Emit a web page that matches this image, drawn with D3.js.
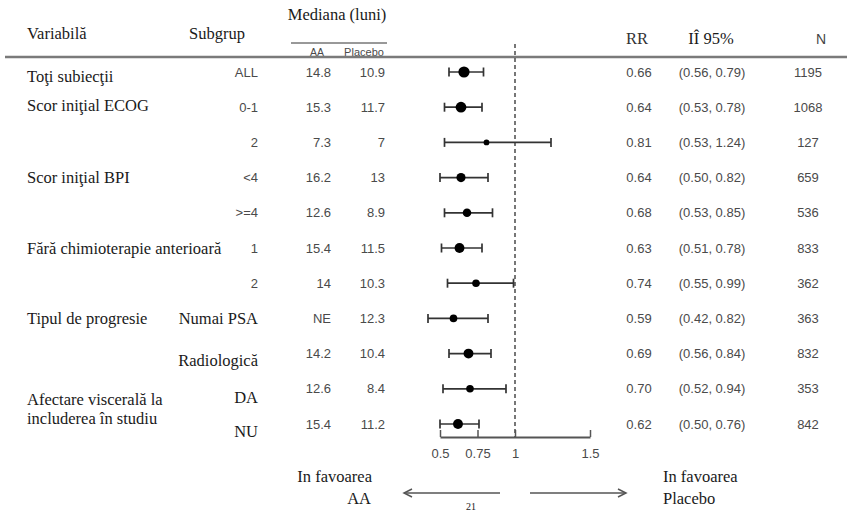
<!DOCTYPE html>
<html><head><meta charset="utf-8">
<script src="https://cdn.jsdelivr.net/npm/d3@7/dist/d3.min.js"></script>
<style>html,body{margin:0;padding:0;background:#fff}svg{display:block}</style>
</head><body>
<svg id="chart" width="853" height="511"></svg>
<script>
// ---- data ----
const variables = ["Toţi subiecţii","Scor iniţial ECOG","","Scor iniţial BPI","","Fără chimioterapie anterioară","","Tipul de progresie","","Afectare viscerală la|includerea în studiu",""];
const subgroups = ["ALL","0-1","2","<4",">=4","1","2","Numai PSA","Radiologică","DA","NU"];
const medianAA = ["14.8","15.3","7.3","16.2","12.6","15.4","14","NE","14.2","12.6","15.4"];
const medianPlacebo = ["10.9","11.7","7","13","8.9","11.5","10.3","12.3","10.4","8.4","11.2"];
const rr = [0.66,0.64,0.81,0.64,0.68,0.63,0.74,0.59,0.69,0.70,0.62];
const ciLow = [0.56,0.53,0.53,0.50,0.53,0.51,0.55,0.42,0.56,0.52,0.50];
const ciHigh = [0.79,0.78,1.24,0.82,0.85,0.78,0.99,0.82,0.84,0.94,0.76];
const nSubj = [1195,1068,127,659,536,833,362,363,832,353,842];
const xTicks = [0.5,0.75,1,1.5];
const headers = {variable:"Variabilă", subgroup:"Subgrup", median:"Mediana (luni)", aa:"AA", placebo:"Placebo", rr:"RR", ci:"IÎ 95%", n:"N"};
const favourLeft = ["In favoarea","AA"];
const favourRight = ["In favoarea","Placebo"];
const pageNumber = "21";

// ---- setup ----
const svg = d3.select("#chart");
const SERIF = "'Liberation Serif','Times New Roman',serif";
const SANS = "'Liberation Sans',Arial,sans-serif";
const serifCol = "#1a1a1a", sansCol = "#4a4a4a";
const SERIF_SIZE = 16.5, SANS_SIZE = 13;

const x = d3.scaleLinear().domain([0.5,1.5]).range([440,590]);
const y = d3.scaleLinear().domain([0, rr.length-1]).range([72, 424]);
const r = d3.scaleSqrt().domain([127,1195]).range([2.9,5.6]);
const idx = d3.range(rr.length);

function txt(g, s, xx, yy, o) {
  o = o || {};
  const t = g.append("text").attr("x", xx).attr("y", yy).text(s)
    .attr("font-family", o.family || SERIF)
    .attr("font-size", o.size || SERIF_SIZE)
    .attr("fill", o.fill || serifCol)
    .attr("text-anchor", o.anchor || "start");
  if (o.dy) t.attr("dy", o.dy);
  return t;
}

// ---- header ----
const h = svg.append("g");
txt(h, headers.variable, 27, 39);
txt(h, headers.subgroup, 189, 39);
txt(h, headers.median, 337, 20, {anchor:"middle"});
h.append("line").attr("x1",291).attr("x2",387).attr("y1",43).attr("y2",43).attr("stroke","#333").attr("stroke-width",1);
txt(h, headers.aa, 317, 56, {family:SANS, size:10.5, fill:sansCol, anchor:"middle"});
txt(h, headers.placebo, 364, 56, {family:SANS, size:11, fill:sansCol, anchor:"middle"});
txt(h, headers.rr, 637, 44, {anchor:"middle", fill:"#333"});
txt(h, headers.ci, 711, 44, {anchor:"middle"});
txt(h, headers.n, 821, 44, {anchor:"middle", family:SANS, size:14, fill:"#444"});
h.append("line").attr("x1",5).attr("x2",847).attr("y1",57).attr("y2",57).attr("stroke","#7a7a7a").attr("stroke-width",2.5);

// ---- reference line ----
svg.append("line").attr("x1", x(1)).attr("x2", x(1)).attr("y1", 44).attr("y2", 437)
  .attr("stroke","#555").attr("stroke-width",1.6).attr("stroke-dasharray","4,3");

// ---- axis ----
const axis = d3.axisBottom(x).tickValues(xTicks).tickFormat(d => String(d))
  .tickSizeInner(-7).tickSizeOuter(0).tickPadding(12);
const ag = svg.append("g").attr("transform","translate(0,437)").call(axis);
ag.select(".domain").attr("stroke","#555").attr("stroke-width",2);
ag.selectAll(".tick line").attr("stroke","#555").attr("stroke-width",1.5);
ag.selectAll(".tick text").attr("font-family",SANS).attr("font-size",SANS_SIZE).attr("fill",sansCol);

// ---- rows ----
const rows = svg.append("g");
const serifSub = new Set(["Numai PSA","Radiologică","DA","NU"]);
const labelOffset = [4,-2,0,0,0,0,0,0,0,0,0];
const subOffset = [0,0,0,0,0,0,0,0,7,8,7];
idx.forEach(i => {
  const yy = y(i);
  if (variables[i]) {
    const parts = variables[i].split("|");
    parts.forEach((p, k) => txt(rows, p, 27, yy + labelOffset[i] + (parts.length>1 ? 10 + k*19 : 0), {dy:"0.35em"}));
  }
  if (serifSub.has(subgroups[i])) {
    txt(rows, subgroups[i], 258, yy + subOffset[i], {anchor:"end", dy:"0.35em"});
  } else {
    txt(rows, subgroups[i], 258, yy, {anchor:"end", family:SANS, size:SANS_SIZE, fill:sansCol, dy:"0.35em"});
  }
  txt(rows, medianAA[i], 331, yy, {anchor:"end", family:SANS, size:SANS_SIZE, fill:sansCol, dy:"0.35em"});
  txt(rows, medianPlacebo[i], 385, yy, {anchor:"end", family:SANS, size:SANS_SIZE, fill:sansCol, dy:"0.35em"});
  txt(rows, d3.format(".2f")(rr[i]), 639, yy, {anchor:"middle", family:SANS, size:SANS_SIZE, fill:sansCol, dy:"0.35em"});
  txt(rows, "(" + d3.format(".2f")(ciLow[i]) + ", " + d3.format(".2f")(ciHigh[i]) + ")", 712, yy, {anchor:"middle", family:SANS, size:SANS_SIZE, fill:sansCol, dy:"0.35em"});
  txt(rows, String(nSubj[i]), 808, yy, {anchor:"middle", family:SANS, size:SANS_SIZE, fill:sansCol, dy:"0.35em"});
});

// ---- CI bars and points ----
const marks = svg.append("g");
marks.selectAll("line.ci").data(idx).join("line").attr("class","ci")
  .attr("x1", i => x(ciLow[i])).attr("x2", i => x(ciHigh[i]))
  .attr("y1", i => y(i)).attr("y2", i => y(i))
  .attr("stroke","#333").attr("stroke-width",1.7);
["lo","hi"].forEach(side => {
  marks.selectAll("line.cap"+side).data(idx).join("line").attr("class","cap"+side)
    .attr("x1", i => x(side==="lo"?ciLow[i]:ciHigh[i])).attr("x2", i => x(side==="lo"?ciLow[i]:ciHigh[i]))
    .attr("y1", i => y(i)-4.5).attr("y2", i => y(i)+4.5)
    .attr("stroke","#333").attr("stroke-width",1.7);
});
marks.selectAll("circle").data(idx).join("circle")
  .attr("cx", i => x(rr[i])).attr("cy", i => y(i)).attr("r", i => r(nSubj[i]))
  .attr("fill","#000");

// ---- favour arrows ----
const defs = svg.append("defs");
defs.append("marker").attr("id","ah").attr("viewBox","-10 -6 12 12").attr("refX",0).attr("refY",0)
  .attr("markerWidth",12).attr("markerHeight",12).attr("markerUnits","userSpaceOnUse").attr("orient","auto")
  .append("path").attr("d","M-8,-4 L0,0 L-8,4").attr("fill","none").attr("stroke","#555").attr("stroke-width",1.5);
const fav = svg.append("g");
fav.append("line").attr("x1",500).attr("x2",404).attr("y1",493).attr("y2",493)
  .attr("stroke","#555").attr("stroke-width",1.5).attr("marker-end","url(#ah)");
fav.append("line").attr("x1",530).attr("x2",626).attr("y1",493).attr("y2",493)
  .attr("stroke","#555").attr("stroke-width",1.5).attr("marker-end","url(#ah)");
txt(fav, favourLeft[0], 372, 482, {anchor:"end"});
txt(fav, favourLeft[1], 371, 504, {anchor:"end"});
txt(fav, favourRight[0], 663, 482);
txt(fav, favourRight[1], 663, 504);
txt(fav, pageNumber, 471, 510, {anchor:"middle", size:10});
</script>
</body></html>
